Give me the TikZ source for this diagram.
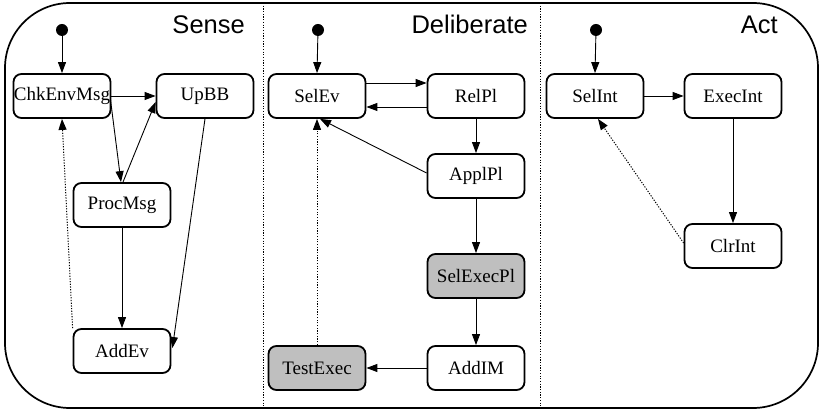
\documentclass[tikz,border=0pt]{standalone}
\usepackage{fontspec}
\setmainfont{Liberation Serif}
\newfontfamily\titlefont{Liberation Sans}
\usetikzlibrary{arrows.meta,calc}

\tikzset{
  state/.style={draw, line width=1.8pt, rounded corners=8pt, minimum width=97pt,
    minimum height=44pt, inner sep=0pt, fill=white, font=\fontsize{19}{20}\selectfont},
  busy/.style={state, fill=black!25},
  startdot/.style={circle, fill=black, inner sep=0pt, minimum size=12pt},
  flow/.style={draw, line width=0.9pt, -{Triangle[length=11pt,width=8pt]}},
  back/.style={flow, line width=1pt, dash pattern=on 1.2pt off 1.5pt},
  lane/.style={draw, line width=0.9pt, dash pattern=on 1.2pt off 1.5pt},
  title/.style={anchor=base east, inner sep=0pt, font=\titlefont\fontsize{25.5}{28}\selectfont}
}

\begin{document}
\begin{tikzpicture}[x=1pt,y=-1pt]
\useasboundingbox (0,0) rectangle (820,411);

% outer frame and lane dividers
\draw[line width=1.7pt, rounded corners=65pt] (5,3) rectangle (818,408);
\draw[lane] (263,3) -- (263,408);
\draw[lane] (540,3) -- (540,408);

% lane titles
\node[title] (tsense) at (245,34) {Sense};
\node[title] (tdelib) at (528,34) {Deliberate};
\node[title] (tact) at (778,34) {Act};

% Sense
\node[startdot] (s0) at (62,30) {};
\node[state] (chk) at (62,96) {ChkEnvMsg};
\node[state] (upbb) at (205,96) {UpBB};
\node[state] (proc) at (122,205) {ProcMsg};
\node[state] (addev) at (122,351) {AddEv};

% Deliberate
\node[startdot] (d0) at (318,30) {};
\node[state] (selev) at (317,96) {SelEv};
\node[state] (relpl) at (476,96) {RelPl};
\node[state] (applpl) at (476,176) {ApplPl};
\node[busy] (selexec) at (476,276) {SelExecPl};
\node[state] (addim) at (476,368) {AddIM};
\node[busy] (test) at (317,368) {TestExec};

% Act
\node[startdot] (a0) at (596,30) {};
\node[state] (selint) at (595,96) {SelInt};
\node[state] (execint) at (733,96) {ExecInt};
\node[state] (clrint) at (733,246) {ClrInt};

% Sense transitions
\draw[flow] (s0) -- (chk.north);
\draw[flow] (chk.east) -- (upbb.west);
\draw[flow] ($(chk.east)+(-1,3)$) -- ($(proc.north)+(-1,0)$);
\draw[flow] ($(proc.north)+(1,0)$) -- ($(upbb.west)+(0,6)$);
\draw[flow] (upbb.south) -- ($(addev.east)+(1,-3)$);
\draw[flow] (proc.south) -- (addev.north);
\draw[back] (addev.north west) -- (chk.south);

% Deliberate transitions
\draw[flow] (d0) -- (selev.north);
\draw[flow] ($(selev.east)+(0,-13)$) -- ($(relpl.west)+(0,-13)$);
\draw[flow] ($(relpl.west)+(0,11)$) -- ($(selev.east)+(0,11)$);
\draw[flow] (relpl.south) -- (applpl.north);
\draw[flow] ($(applpl.west)+(0,-3)$) -- ($(selev.south)+(3,0)$);
\draw[flow] (applpl.south) -- (selexec.north);
\draw[flow] (selexec.south) -- (addim.north);
\draw[flow] (addim.west) -- (test.east);
\draw[back] (test.north) -- (selev.south);

% Act transitions
\draw[flow] (a0) -- (selint.north);
\draw[flow] (selint.east) -- (execint.west);
\draw[flow] (execint.south) -- (clrint.north);
\draw[back] ($(clrint.west)+(0,-3)$) -- ($(selint.south)+(3,0)$);
\end{tikzpicture}
\end{document}
